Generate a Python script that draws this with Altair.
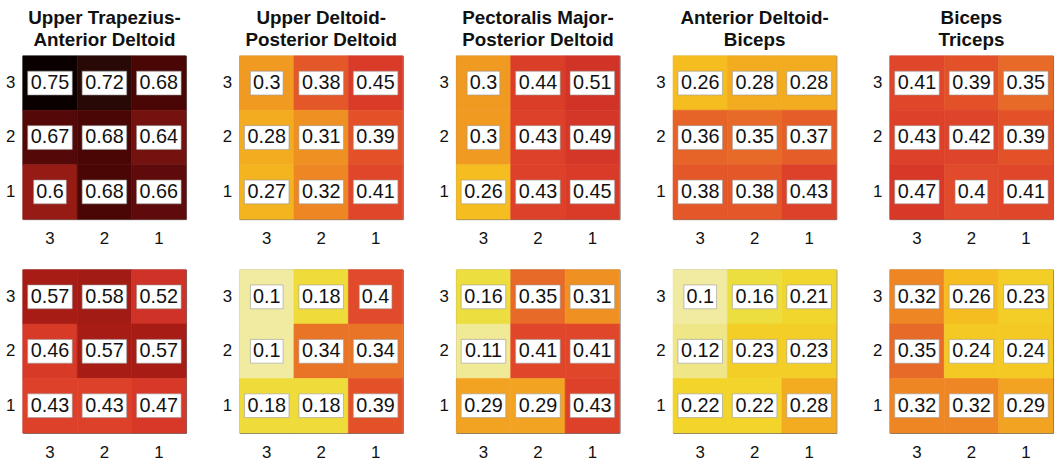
import altair as alt
import pandas as pd

# Muscle pairs, one per column of panels
pair_titles = [
    ["Upper Trapezius-", "Anterior Deltoid"],
    ["Upper Deltoid-", "Posterior Deltoid"],
    ["Pectoralis Major-", "Posterior Deltoid"],
    ["Anterior Deltoid-", "Biceps"],
    ["Biceps", "Triceps"],
]

# Grid levels, in display order (left->right and top->bottom)
levels = ["3", "2", "1"]

# 3x3 grids, rows listed top (3) to bottom (1), columns left (3) to right (1)
top_row_values = [
    [[0.75, 0.72, 0.68], [0.67, 0.68, 0.64], [0.60, 0.68, 0.66]],
    [[0.30, 0.38, 0.45], [0.28, 0.31, 0.39], [0.27, 0.32, 0.41]],
    [[0.30, 0.44, 0.51], [0.30, 0.43, 0.49], [0.26, 0.43, 0.45]],
    [[0.26, 0.28, 0.28], [0.36, 0.35, 0.37], [0.38, 0.38, 0.43]],
    [[0.41, 0.39, 0.35], [0.43, 0.42, 0.39], [0.47, 0.40, 0.41]],
]
bottom_row_values = [
    [[0.57, 0.58, 0.52], [0.46, 0.57, 0.57], [0.43, 0.43, 0.47]],
    [[0.10, 0.18, 0.40], [0.10, 0.34, 0.34], [0.18, 0.18, 0.39]],
    [[0.16, 0.35, 0.31], [0.11, 0.41, 0.41], [0.29, 0.29, 0.43]],
    [[0.10, 0.16, 0.21], [0.12, 0.23, 0.23], [0.22, 0.22, 0.28]],
    [[0.32, 0.26, 0.23], [0.35, 0.24, 0.24], [0.32, 0.32, 0.29]],
]

# Inverted "hot" colour map: pale yellow -> yellow -> orange -> red -> black
color_stops = [0.10, 0.13, 0.16, 0.22, 0.26, 0.30, 0.35, 0.40, 0.45, 0.52, 0.57, 0.62, 0.68, 0.75]
color_range = ["#F1EBA2", "#EEE47A", "#EDDE40", "#F2D42A", "#F5BD20", "#F09A22",
               "#E86A28", "#E14A2A", "#DA3B28", "#CF3226", "#A81C16", "#8A1A12",
               "#4A0604", "#0A0000"]

FONT = "Liberation Sans"
PANEL_W, PANEL_H = 165, 165


def grid_frame(grid):
    records = []
    for r, row_level in enumerate(levels):
        for c, col_level in enumerate(levels):
            v = grid[r][c]
            records.append({"row": row_level, "col": col_level,
                            "value": v, "label": f"{v:g}"})
    return pd.DataFrame(records)


def panel(grid, title=None):
    axis_style = dict(labelFont=FONT, labelFontSize=17, labelColor="#111",
                      ticks=False, domain=False, grid=False, title=None)
    base = alt.Chart(grid_frame(grid)).encode(
        x=alt.X("col:N", sort=levels,
                scale=alt.Scale(paddingInner=0, paddingOuter=0),
                axis=alt.Axis(labelAngle=0, labelPadding=12, **axis_style)),
        y=alt.Y("row:N", sort=levels,
                scale=alt.Scale(paddingInner=0, paddingOuter=0),
                axis=alt.Axis(labelPadding=8, **axis_style)),
    )
    color_scale = alt.Scale(domain=color_stops, range=color_range, clamp=True)
    heat = base.mark_rect(strokeWidth=0.6).encode(
        color=alt.Color("value:Q", legend=None, scale=color_scale),
        stroke=alt.Color("value:Q", legend=None, scale=color_scale),
    )
    wide_box = base.mark_rect(width=45, height=24, fill="white",
                              stroke="#9a9a9a", strokeWidth=0.6).transform_filter(
        "length(datum.label) >= 4")
    narrow_box = base.mark_rect(width=33, height=24, fill="white",
                                stroke="#9a9a9a", strokeWidth=0.6).transform_filter(
        "length(datum.label) < 4")
    labels = base.mark_text(font=FONT, fontSize=20, color="#111",
                            baseline="middle").encode(text="label:N")
    layer = alt.layer(heat, wide_box, narrow_box, labels).properties(
        width=PANEL_W, height=PANEL_H)
    if title is not None:
        layer = layer.properties(title=alt.TitleParams(
            text=title, font=FONT, fontSize=19, fontWeight="bold",
            color="#111", anchor="middle", lineHeight=22, offset=6))
    return layer


top = alt.hconcat(*[panel(g, t) for g, t in zip(top_row_values, pair_titles)],
                  spacing=35)
bottom = alt.hconcat(*[panel(g) for g in bottom_row_values], spacing=35)

chart = alt.vconcat(top, bottom, spacing=21).properties(
    padding={"top": 6, "left": 5, "right": 5, "bottom": 5}
).configure(
    background="white"
).configure_view(
    stroke="#666666", strokeWidth=1
)

chart.save("out.html", embed_options={"renderer": "svg", "actions": False})
